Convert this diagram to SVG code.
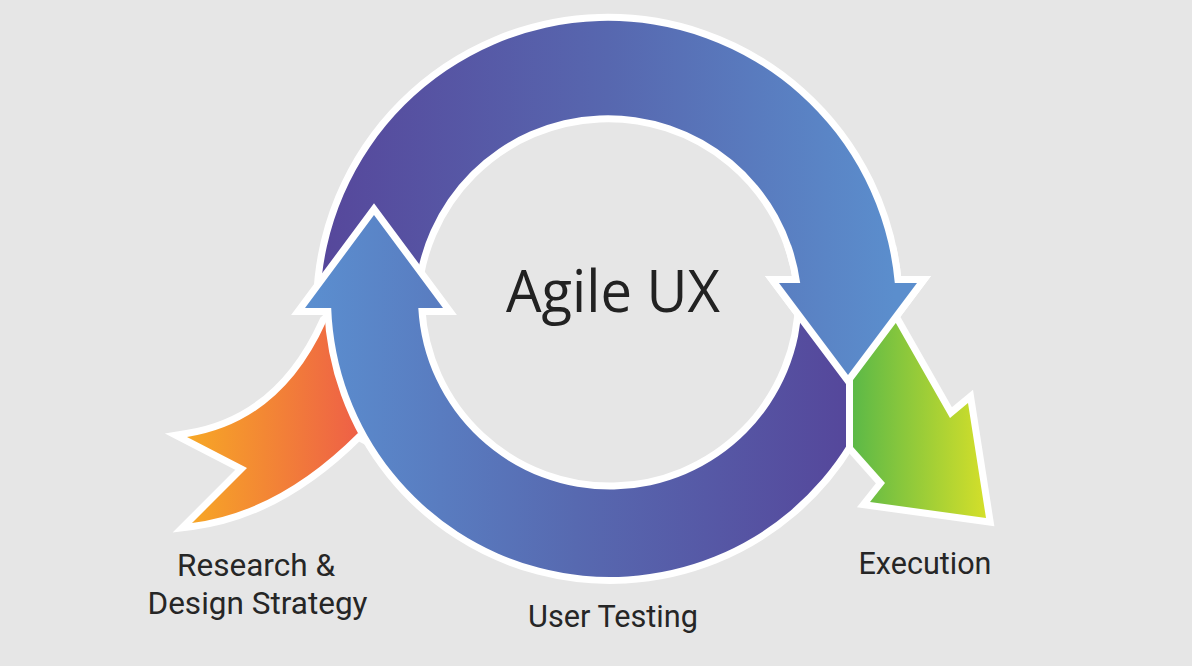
<svg xmlns="http://www.w3.org/2000/svg" width="1192" height="666" viewBox="0 0 1192 666">
  <defs>
    <linearGradient id="gTop" gradientUnits="userSpaceOnUse" x1="320" y1="0" x2="895" y2="0">
      <stop offset="0" stop-color="#56479b"/>
      <stop offset="0.5" stop-color="#5767af"/>
      <stop offset="1" stop-color="#5b8ecd"/>
    </linearGradient>
    <linearGradient id="gBottom" gradientUnits="userSpaceOnUse" x1="305" y1="0" x2="848" y2="0">
      <stop offset="0" stop-color="#5b8fd0"/>
      <stop offset="0.5" stop-color="#5769b0"/>
      <stop offset="1" stop-color="#55479b"/>
    </linearGradient>
    <linearGradient id="gOrange" gradientUnits="userSpaceOnUse" x1="187" y1="0" x2="360" y2="0">
      <stop offset="0" stop-color="#f7a825"/>
      <stop offset="1" stop-color="#ee5f47"/>
    </linearGradient>
    <linearGradient id="gGreen" gradientUnits="userSpaceOnUse" x1="853" y1="0" x2="986" y2="0">
      <stop offset="0" stop-color="#5cb947"/>
      <stop offset="1" stop-color="#d4df2a"/>
    </linearGradient>
    <clipPath id="headClip">
      <rect x="765" y="245" width="170" height="145"/>
    </clipPath>
    <path id="topArrowPath" d="M 320.1,300 A 288 288 0 0 1 894.8,283 L 917,283 L 848,375 L 779,283 L 800.2,283 A 194 194 0 0 0 414.2,300 Z"/>
  </defs>
  <style>
    .shape { stroke: #ffffff; stroke-width: 14; stroke-linejoin: miter; stroke-miterlimit: 6; paint-order: stroke; }
    .label { font-family: Roboto, "Open Sans", "Liberation Sans", sans-serif; fill: #262626; text-anchor: middle; }
    .title { font-family: "Open Sans", Roboto, "Liberation Sans", sans-serif; fill: #222222; text-anchor: middle; }
  </style>
  <rect x="0" y="0" width="1192" height="666" fill="#e6e6e6"/>

  <g id="connectors">
    <g id="research-arrow">
      <path class="shape" fill="url(#gOrange)" d="M 187,437 Q 281,422 326,322 L 350,300 L 390,450 L 358,433 Q 279,512 192,523 L 247,468 Z"/>
    </g>
    <g id="top-arc-arrow">
      <use href="#topArrowPath" class="shape" fill="url(#gTop)"/>
    </g>
    <g id="bottom-arc-arrow">
      <path class="shape" fill="url(#gBottom)" d="M 802,300 L 848,373 L 848,443.6 A 279 279 0 0 1 331.2,308 L 305,308 L 374,215 L 443,308 L 418.3,308 A 192 192 0 0 0 802,300 Z"/>
    </g>
    <g id="execution-arrow">
      <path class="shape" fill="url(#gGreen)" d="M 853,447 L 853,372 L 893,318 L 950,418 L 968,403 L 986,518 L 870,502 L 885,483 Z"/>
    </g>
    <g id="top-arc-arrowhead" clip-path="url(#headClip)">
      <use href="#topArrowPath" class="shape" fill="url(#gTop)"/>
    </g>
  </g>

  <g id="node-agile-ux">
    <text class="title" x="613" y="312" font-size="58" textLength="214" lengthAdjust="spacingAndGlyphs">Agile UX</text>
  </g>
  <g id="node-research">
    <text class="label" x="256" y="576" font-size="31" textLength="158" lengthAdjust="spacingAndGlyphs">Research &amp;</text>
    <text class="label" x="257.5" y="613.5" font-size="31" textLength="220" lengthAdjust="spacingAndGlyphs">Design Strategy</text>
  </g>
  <g id="node-user-testing">
    <text class="label" x="613" y="627" font-size="31" textLength="170" lengthAdjust="spacingAndGlyphs">User Testing</text>
  </g>
  <g id="node-execution">
    <text class="label" x="925" y="574" font-size="31" textLength="133" lengthAdjust="spacingAndGlyphs">Execution</text>
  </g>
</svg>
